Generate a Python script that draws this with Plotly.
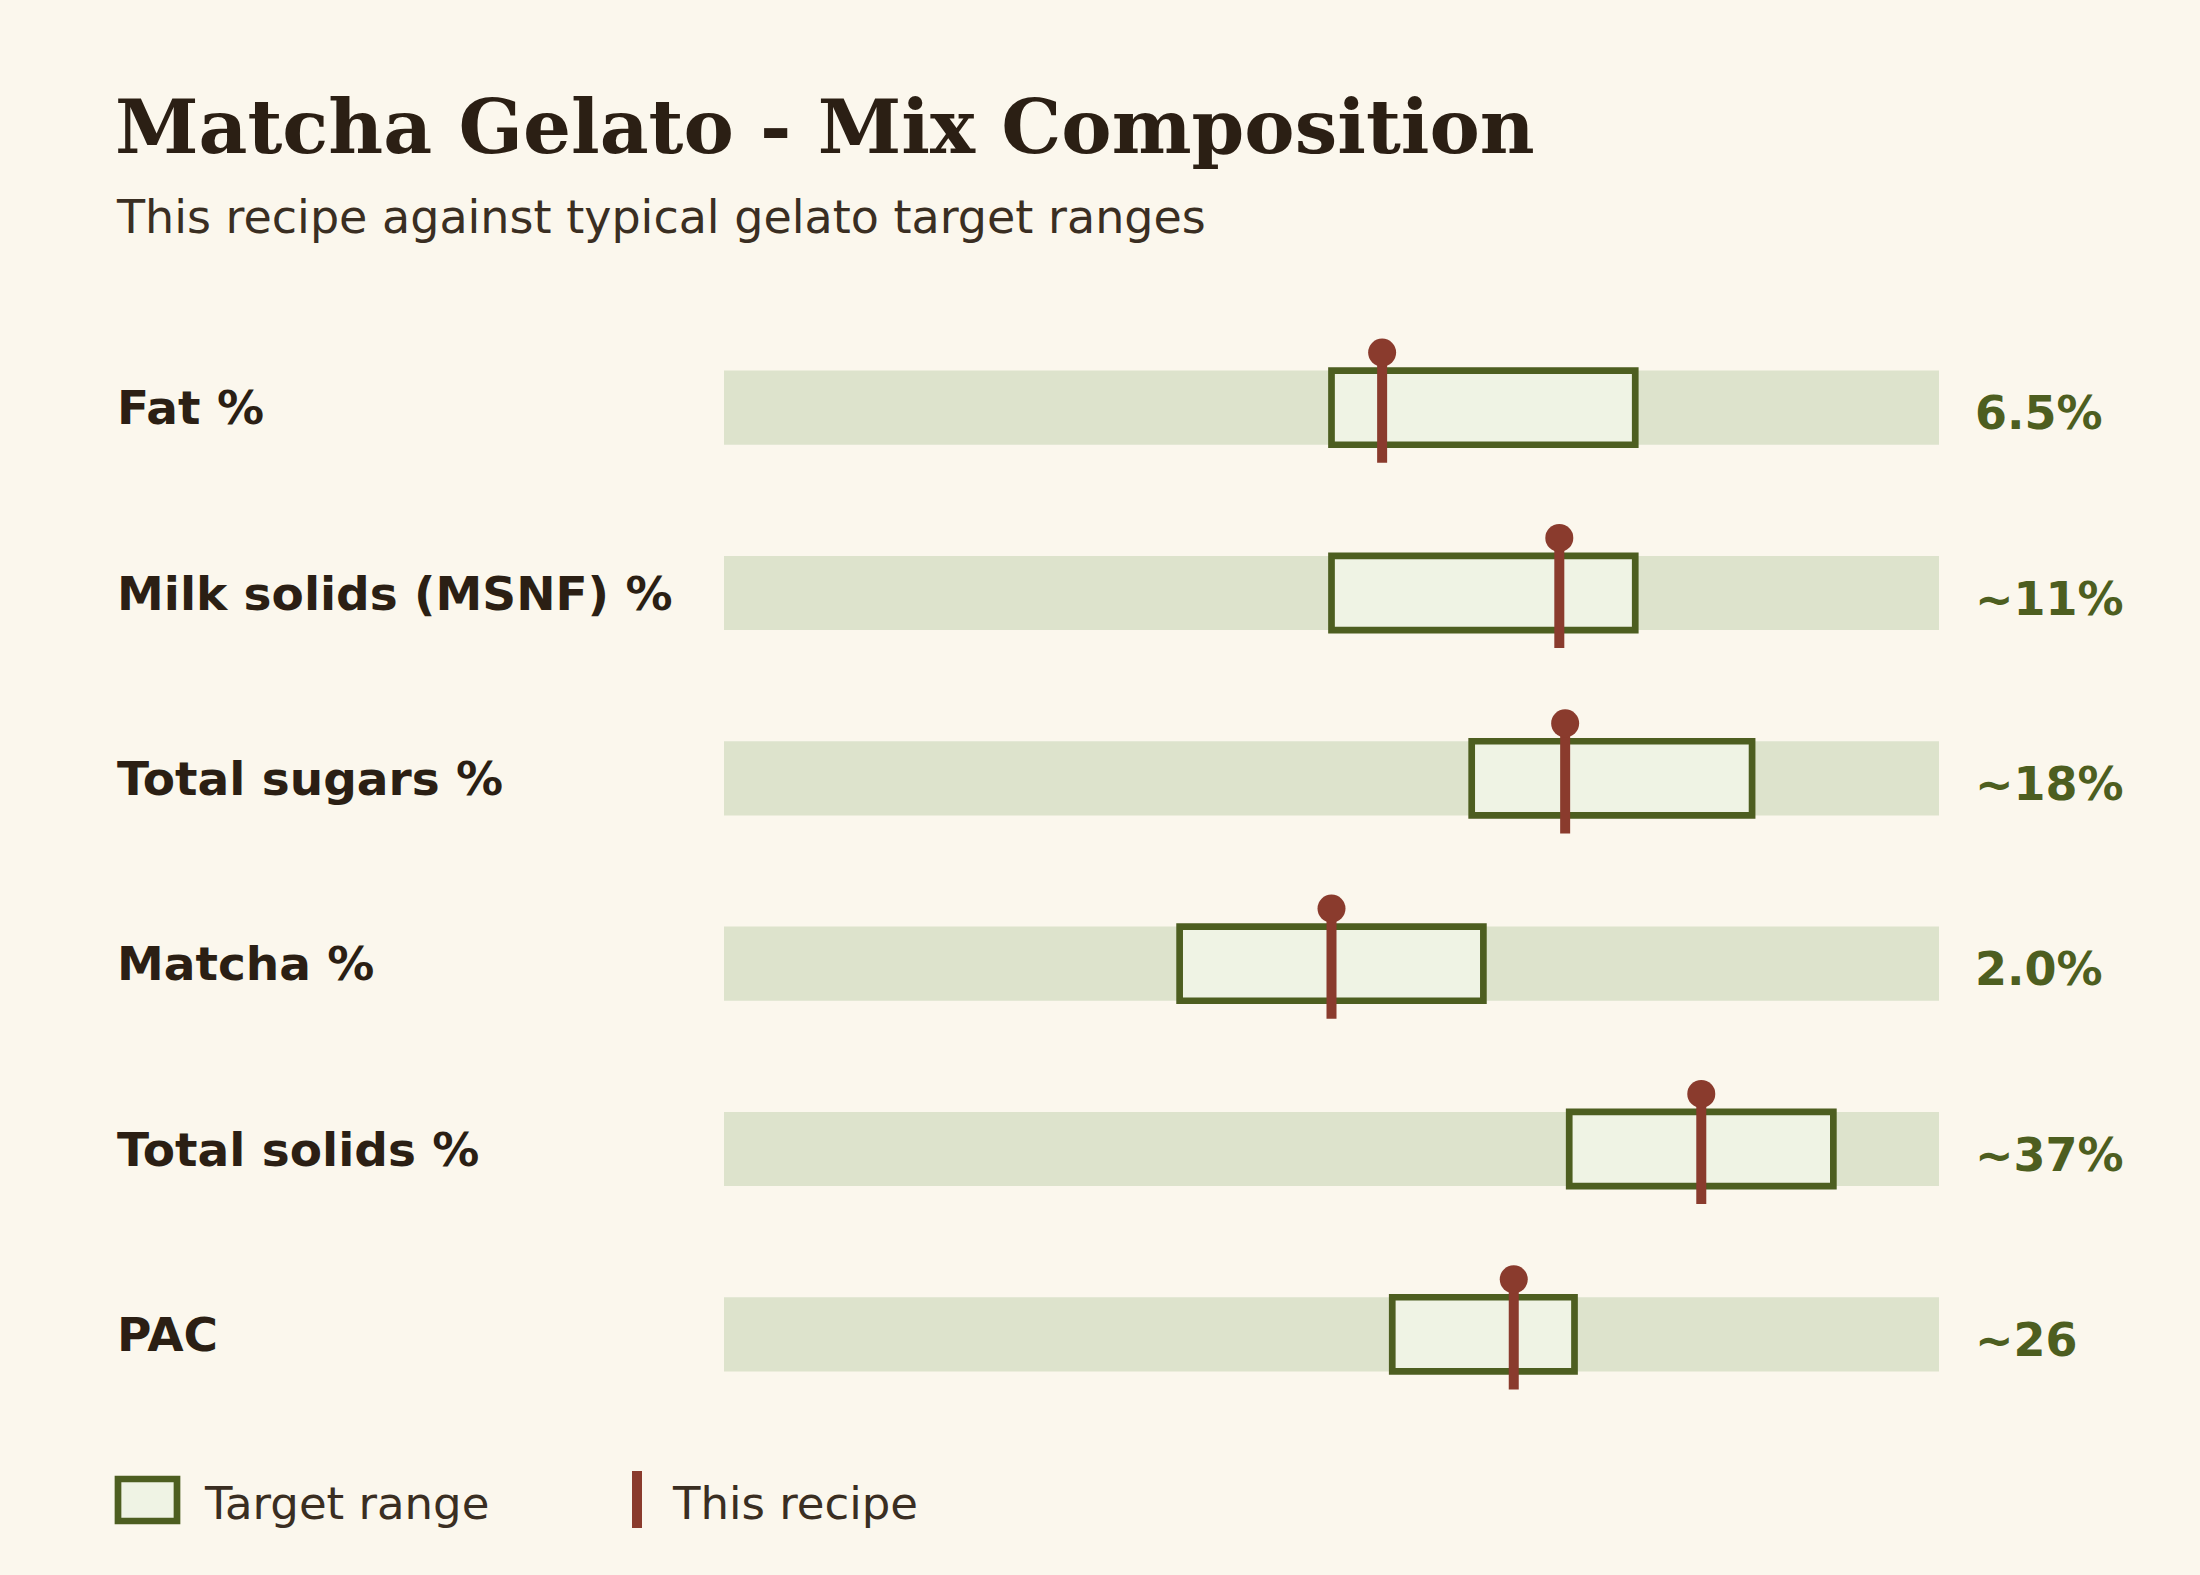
import plotly.graph_objects as go

# ---- data ----
metrics = ["Fat %", "Milk solids (MSNF) %", "Total sugars %", "Matcha %", "Total solids %", "PAC"]
scale_max = [12, 16, 26, 4, 46, 40]
target_low = [6, 8, 16, 1.5, 32, 22]
target_high = [9, 12, 22, 2.5, 42, 28]
recipe_value = [6.5, 11, 18, 2.0, 37, 26]
value_labels = ["6.5%", "~11%", "~18%", "2.0%", "~37%", "~26"]

W, H = 2200, 1575
L, R, T, B = 724, 261, 315, 148
PW, PH = W - L - R, H - T - B

def px(x):
    return (x - L) / PW

def py(y):
    return 1 - (y - T) / PH

BG = "#FBF7ED"
TRACK = "#DDE3CC"
BOX_FILL = "#EFF3E4"
BOX_LINE = "#4D5E20"
RECIPE = "#8A3B2D"
DARK = "#2B1F14"
SUB = "#3A2E22"

n = len(metrics)
rows = list(range(n))
lo_n = [lo / m for lo, m in zip(target_low, scale_max)]
hi_n = [hi / m for hi, m in zip(target_high, scale_max)]
val_n = [v / m for v, m in zip(recipe_value, scale_max)]

BAR_W = 0.40
fig = go.Figure()

# background track
fig.add_trace(go.Bar(
    y=rows, x=[1.0] * n, base=[0.0] * n, orientation="h", width=BAR_W,
    marker=dict(color=TRACK, line=dict(width=0)), hoverinfo="skip", showlegend=False))

# target range
fig.add_trace(go.Bar(
    y=rows, x=[h - l for h, l in zip(hi_n, lo_n)], base=lo_n, orientation="h", width=BAR_W,
    marker=dict(color=BOX_FILL, line=dict(color=BOX_LINE, width=6.7)),
    hoverinfo="skip", showlegend=False))

# recipe stems
sx, sy = [], []
for i, v in enumerate(val_n):
    sx += [v, v, None]
    sy += [i - 0.297, i + 0.297, None]
fig.add_trace(go.Scatter(x=sx, y=sy, mode="lines", line=dict(color=RECIPE, width=10),
                         hoverinfo="skip", showlegend=False))
fig.add_trace(go.Scatter(x=val_n, y=[i - 0.297 for i in rows], mode="markers",
                         marker=dict(color=RECIPE, size=28, line=dict(width=0)),
                         hoverinfo="skip", showlegend=False))

ann = []
for i, (name, lab) in enumerate(zip(metrics, value_labels)):
    ann.append(dict(x=px(115), xref="paper", y=i, yref="y", text=f"<b>{name}</b>",
                    showarrow=False, xanchor="left", yanchor="middle",
                    font=dict(family="DejaVu Sans", size=47, color=DARK)))
    ann.append(dict(x=px(1973), xref="paper", y=i + 0.03, yref="y", text=f"<b>{lab}</b>",
                    showarrow=False, xanchor="left", yanchor="middle",
                    font=dict(family="DejaVu Sans", size=46, color=BOX_LINE)))

ann.append(dict(x=px(113), xref="paper", y=py(126), yref="paper",
                text="<b>Matcha Gelato - Mix Composition</b>", showarrow=False,
                xanchor="left", yanchor="middle",
                font=dict(family="DejaVu Serif", size=75.5, color=DARK)))
ann.append(dict(x=px(114), xref="paper", y=py(217), yref="paper",
                text="This recipe against typical gelato target ranges", showarrow=False,
                xanchor="left", yanchor="middle",
                font=dict(family="DejaVu Sans", size=46, color=SUB)))
ann.append(dict(x=px(202), xref="paper", y=py(1503), yref="paper",
                text="Target range", showarrow=False, xanchor="left", yanchor="middle",
                font=dict(family="DejaVu Sans", size=45, color=SUB)))
ann.append(dict(x=px(670), xref="paper", y=py(1503), yref="paper",
                text="This recipe", showarrow=False, xanchor="left", yanchor="middle",
                font=dict(family="DejaVu Sans", size=45, color=SUB)))

shapes = [
    dict(type="rect", xref="paper", yref="paper", x0=px(118), x1=px(177),
         y0=py(1479), y1=py(1521), fillcolor=BOX_FILL, line=dict(color=BOX_LINE, width=6.7)),
    dict(type="line", xref="paper", yref="paper", x0=px(637), x1=px(637),
         y0=py(1471), y1=py(1528), line=dict(color=RECIPE, width=10)),
]

fig.update_layout(
    width=W, height=H, margin=dict(l=L, r=R, t=T, b=B, autoexpand=False),
    paper_bgcolor=BG, plot_bgcolor=BG, barmode="overlay",
    xaxis=dict(range=[0, 1], visible=False, fixedrange=True),
    yaxis=dict(range=[n - 0.5, -0.5], visible=False, fixedrange=True),
    annotations=ann, shapes=shapes, showlegend=False,
)

fig.write_html("out.html", config={"displayModeBar": False},
               post_script="document.body.style.margin='0';document.body.style.background='" + BG + "';")
